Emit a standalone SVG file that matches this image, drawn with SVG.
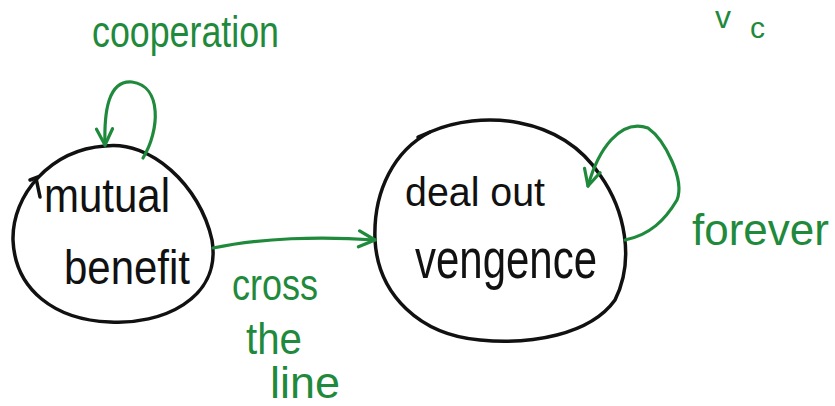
<svg xmlns="http://www.w3.org/2000/svg" width="835" height="406" viewBox="0 0 835 406">
<style>
.node{fill:none;stroke:#111;stroke-width:3.5;stroke-linecap:round;stroke-linejoin:round}
.edge{fill:none;stroke:#1f8a3c;stroke-width:3.2;stroke-linecap:round;stroke-linejoin:round}
.lbl{font-family:"Liberation Sans","DejaVu Sans",sans-serif;fill:#111}
.glbl{font-family:"Liberation Sans","DejaVu Sans",sans-serif;fill:#1f8a3c}
</style>
<defs>
<marker id="arr" viewBox="0 0 20 20" refX="18" refY="10" markerWidth="20" markerHeight="20" markerUnits="userSpaceOnUse" orient="auto">
<path d="M2 2 L18 10 L2 18" fill="none" stroke="#1f8a3c" stroke-width="3.2" stroke-linecap="round" stroke-linejoin="round"/>
</marker>
</defs>
<rect width="835" height="406" fill="#fff"/>
<g id="node-mutual-benefit">
<path class="node" d="M 105 146 C 150 140, 200 185, 212 240 C 222 300, 160 325, 110 322 C 55 320, 15 290, 13 240 C 12 195, 50 150, 105 146 Z"/>
<path class="node" d="M 30 180 L 38 177 M 36 178 L 40 197" stroke-width="2.5"/>
<text class="lbl" x="44" y="212" font-size="48" textLength="126" lengthAdjust="spacingAndGlyphs">mutual</text>
<text class="lbl" x="64" y="284" font-size="48" textLength="126" lengthAdjust="spacingAndGlyphs">benefit</text>
</g>
<g id="node-deal-out-vengence">
<path class="node" d="M 430 132 C 480 110, 560 115, 600 175 C 625 210, 635 260, 615 300 C 590 335, 530 345, 480 340 C 420 335, 378 295, 375 240 C 373 190, 395 150, 430 132 Z"/>
<path class="node" d="M 418 137 L 430 132" stroke-width="4"/>
<text class="lbl" x="405" y="206" font-size="40" textLength="140" lengthAdjust="spacingAndGlyphs">deal out</text>
<text class="lbl" x="415" y="278" font-size="56" textLength="182" lengthAdjust="spacingAndGlyphs">vengence</text>
</g>
<g id="connectors">
<path class="edge" marker-end="url(#arr)" d="M 143 158 C 160 130, 162 86, 132 82 C 108 80, 104 112, 105 145"/>
<path class="edge" marker-end="url(#arr)" d="M 213 248 C 260 238, 320 236, 375 240"/>
<path class="edge" marker-end="url(#arr)" d="M 625 240 C 650 235, 665 220, 677 200 C 685 180, 665 140, 648 128 C 620 118, 598 150, 588 186"/>
</g>
<g id="labels">
<text class="glbl" x="692" y="245" font-size="44">forever</text>
<text class="glbl" x="92" y="47" font-size="44" textLength="187" lengthAdjust="spacingAndGlyphs">cooperation</text>
<text class="glbl" x="232" y="300" font-size="44" textLength="86" lengthAdjust="spacingAndGlyphs">cross</text>
<text class="glbl" x="246" y="354" font-size="44" textLength="56" lengthAdjust="spacingAndGlyphs">the</text>
<text class="glbl" x="270" y="398" font-size="44" textLength="70" lengthAdjust="spacingAndGlyphs">line</text>
<text class="glbl" x="715" y="28" font-size="32">v</text>
<text class="glbl" x="750" y="38" font-size="30">c</text>
</g>
</svg>
